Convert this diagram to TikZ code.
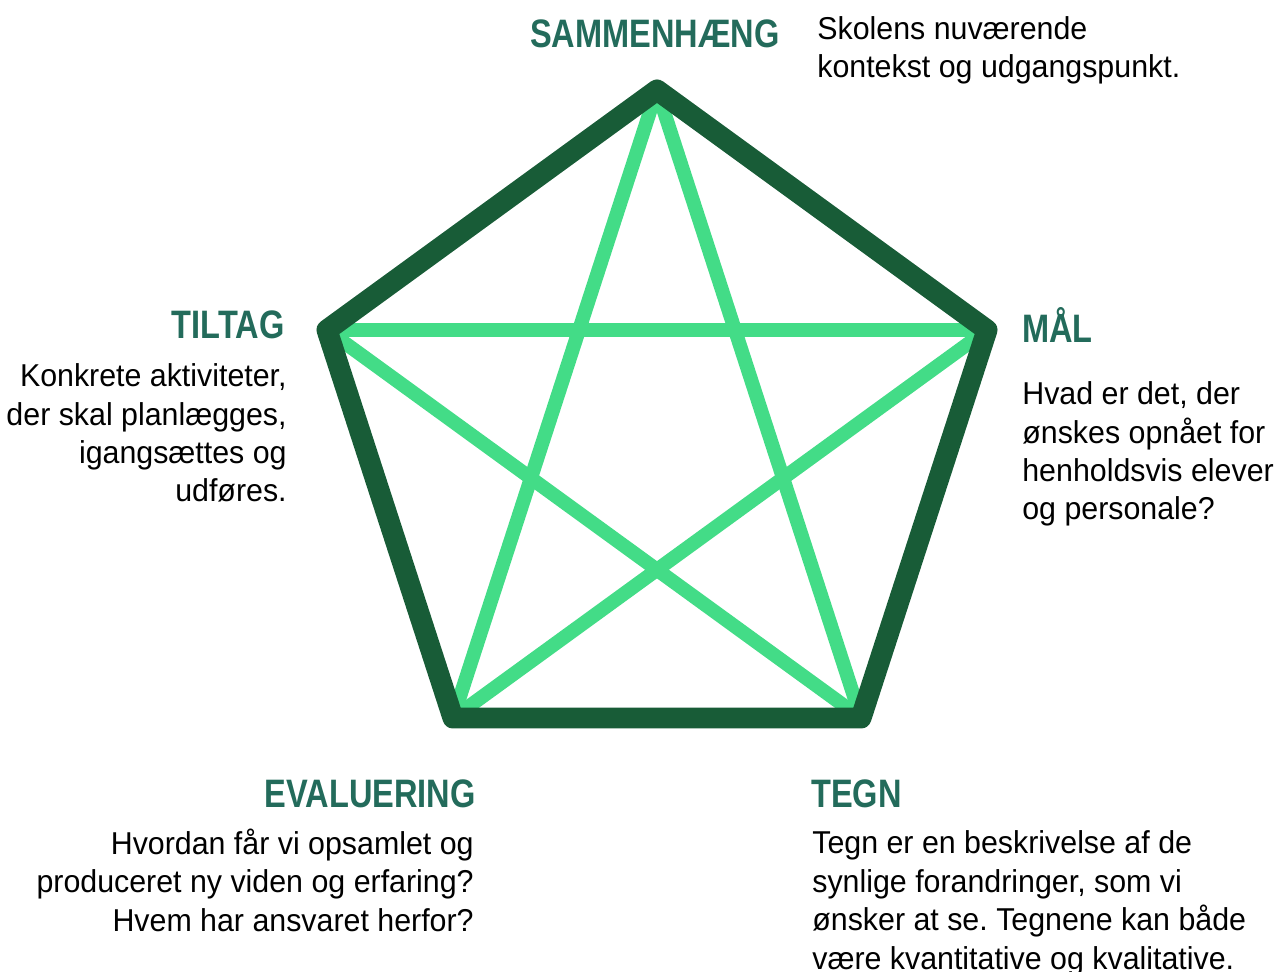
\documentclass[tikz,border=0pt]{standalone}
\usepackage{fontspec}
\setmainfont[FakeStretch=0.96]{Liberation Sans}
\newfontfamily\headfont[FakeStretch=0.82]{Liberation Sans Bold}
\usepackage{tikz}
\usetikzlibrary{positioning}
\frenchspacing

\definecolor{darkgreen}{HTML}{185C37}
\definecolor{lightgreen}{HTML}{43DC87}
\definecolor{headgreen}{HTML}{236B5B}

\tikzset{
  pent/.style={draw=darkgreen,line width=0.42cm,line join=round},
  starline/.style={draw=lightgreen,line width=0.28cm},
  head/.style={inner sep=0pt,text=headgreen,font=\headfont\fontsize{22.6}{27}\selectfont},
  body/.style={inner sep=0pt,text=black,font=\fontsize{18}{21.9}\selectfont}
}

\begin{document}
\begin{tikzpicture}[x=0.02cm,y=-0.02cm]
            \useasboundingbox (0,0) rectangle (1275,972);

            % Place the corners
            \coordinate (sam) at (657,90);
            \coordinate (maal) at (987,330);
            \coordinate (tegn) at (861,718);
            \coordinate (eval) at (453,718);
            \coordinate (tilt) at (327,330);

            % The star
            \draw[starline] (sam) -- (tegn);
            \draw[starline] (tegn) -- (tilt);
            \draw[starline] (tilt) -- (maal);
            \draw[starline] (maal) -- (eval);
            \draw[starline] (eval) -- (sam);

            % The pentagon
            \draw[pent] (sam) -- (maal) -- (tegn) -- (eval) -- (tilt) -- cycle;

            % The headings
            \node[head,anchor=base east] (hsam) at (780,48) {SAMMENHÆNG};
            \node[head,anchor=base west] (hmaal) at (1022,343) {MÅL};
            \node[head,anchor=base west] (htegn) at (811,807) {TEGN};
            \node[head,anchor=base east] (heval) at (476,807) {EVALUERING};
            \node[head,anchor=base east] (htilt) at (285,339) {TILTAG};

            % The texts (base = last line)
            \node[body,align=left,anchor=base west] (tsam) at (817,78)
              {Skolens nuværende\\kontekst og udgangspunkt.};
            \node[body,align=left,anchor=base west] (tmaal) at (1022,520)
              {Hvad er det, der\\ønskes opnået for\\henholdsvis elever\\og personale?};
            \node[body,align=left,anchor=base west] (ttegn) at (812,969)
              {Tegn er en beskrivelse af de\\synlige forandringer, som vi\\ønsker at se. Tegnene kan både\\være kvantitative og kvalitative.};
            \node[body,align=right,anchor=base east] (teval) at (474,931)
              {Hvordan får vi opsamlet og\\produceret ny viden og erfaring?\\Hvem har ansvaret herfor?};
            \node[body,align=right,anchor=base east] (ttilt) at (287,502)
              {Konkrete aktiviteter,\\der skal planlægges,\\igangsættes og\\udføres.};
        \end{tikzpicture}
\end{document}
